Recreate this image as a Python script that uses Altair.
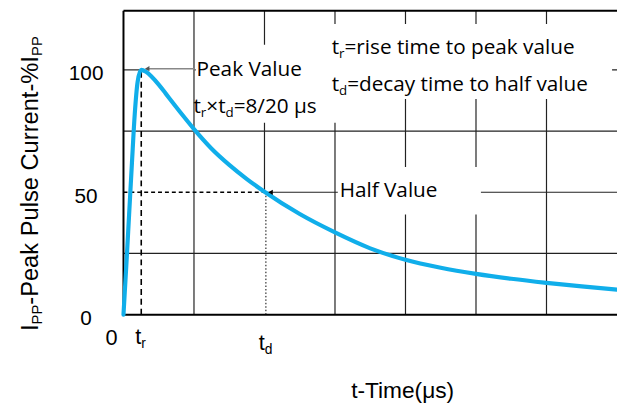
import altair as alt
import pandas as pd

# ---------------- data ----------------
time_us = [0, 0.4, 0.8, 1.2, 1.6, 2.0, 2.5, 3.2, 4, 5, 6, 7, 8, 9, 10, 12.5, 15, 17.5,
           20, 25, 30, 35, 40, 45, 50, 55, 60, 65, 70]
current_pct = [0, 20, 41, 62, 82, 95, 100, 99.2, 97.2, 94.0, 90.3, 86.6, 82.9, 79.3, 75.8,
               67.8, 61.2, 55.4, 50.2, 41.1, 33.6, 27.1, 22.4, 19.15, 16.65, 14.65, 13.0,
               11.55, 10.25]

T_MAX = 70
Y_MAX = 124.2
t_rise = 2.52
t_decay = 20.2
peak_value = 100
half_value = 50

grid_t_full = [10, 30, 40, 50, 60]
grid_y_full = [25, 75]
y_tick_values = [0, 50, 100]
y_tick_labels = ["0", "50", "100"]

# plot-area geometry (used only to convert text widths into data units)
W, H = 500, 308
PX_T = W / T_MAX
PX_Y = H / Y_MAX

OPEN_SANS = {"t": .352, "r": .411, "d": .613, "×": .571}
ARIAL = {"t": .278, "r": .333, "d": .556, "I": .278, "P": .667, "-": .333, "e": .556,
         "a": .556, "k": .5, " ": .278, "u": .556, "l": .222, "s": .5, "C": .722,
         "n": .556, "%": .889}


def text_width(txt, size, table):
    return sum(table.get(c, .556) for c in txt) * size


def segments(parts, x0, y0, table, rotate=False):
    rows, cum = [], 0.0
    for txt, size, shift in parts:
        if rotate:
            rows.append({"x": x0 + shift / PX_T, "y": y0 + cum / PX_Y, "text": txt,
                         "size": size, "angle": 270})
        else:
            rows.append({"x": x0 + cum / PX_T, "y": y0 - shift / PX_Y, "text": txt,
                         "size": size, "angle": 0})
        cum += text_width(txt, size, table)
    return rows


xs = alt.Scale(domain=[0, T_MAX], nice=False, zero=False)
ys = alt.Scale(domain=[0, Y_MAX], nice=False, zero=False)


def X(f="x"):
    return alt.X(f"{f}:Q", scale=xs, axis=None)


def Y(f="y"):
    return alt.Y(f"{f}:Q", scale=ys, axis=None)


def rules(df, **kw):
    return alt.Chart(df).mark_rule(**kw).encode(x=X("x"), x2="x2", y=Y("y"), y2="y2")


# ---------------- grid ----------------
g = []
for t in grid_t_full:
    g.append({"x": t, "x2": t, "y": 0, "y2": Y_MAX})
g.append({"x": 20, "x2": 20, "y": half_value, "y2": Y_MAX})
for v in grid_y_full:
    g.append({"x": 0, "x2": T_MAX, "y": v, "y2": v})
g.append({"x": t_decay, "x2": T_MAX, "y": half_value, "y2": half_value})
g.append({"x": 0, "x2": t_rise, "y": peak_value, "y2": peak_value})
g.append({"x": 10.1, "x2": T_MAX, "y": peak_value, "y2": peak_value})
grid = rules(pd.DataFrame(g), color="#222222", strokeWidth=1.2)

# white backgrounds behind the annotation texts
boxes_df = pd.DataFrame({
    "x": [10.25, 28.7, 30.4], "x2": [30.9, 69.3, 50.7],
    "y": [78.4, 88.1, 40.9], "y2": [110.3, 118.7, 60.3]})
boxes = alt.Chart(boxes_df).mark_rect(color="white").encode(
    x=X("x"), x2="x2", y=Y("y"), y2="y2")

# ---------------- markers ----------------
tr_line = rules(pd.DataFrame([{"x": t_rise, "x2": t_rise, "y": 0, "y2": peak_value}]),
                color="black", strokeWidth=1.6, strokeDash=[6, 4])
half_line = rules(pd.DataFrame([{"x": 0, "x2": t_decay, "y": half_value, "y2": half_value}]),
                  color="black", strokeWidth=1.3, strokeDash=[4, 3])
td_line = rules(pd.DataFrame([{"x": t_decay, "x2": t_decay, "y": 0, "y2": half_value}]),
                color="black", strokeWidth=1, strokeDash=[1.5, 2])

axes_lines = rules(pd.DataFrame([
    {"x": 0, "x2": 0, "y": 0, "y2": Y_MAX},
    {"x": 0, "x2": T_MAX, "y": 0, "y2": 0},
    {"x": 0, "x2": T_MAX, "y": Y_MAX, "y2": Y_MAX},
]), color="black", strokeWidth=2)

# ---------------- curve ----------------
curve_df = pd.DataFrame({"t": time_us, "i": current_pct})
curve = alt.Chart(curve_df).mark_line(
    color="#10AEEA", strokeWidth=4.2, interpolate="monotone", strokeCap="round",
    strokeJoin="round").encode(x=X("t"), y=Y("i"))

# ---------------- arrows ----------------
peak_arrow = rules(pd.DataFrame([{"x": 3.2, "x2": 10.1, "y": 100.5, "y2": 100.5}]),
                   color="#888888", strokeWidth=1.5)
heads_df = pd.DataFrame({"x": [3.36, 20.86], "y": [100.5, half_value],
                         "c": ["#555555", "black"]})
heads = alt.Chart(heads_df).mark_point(shape="triangle-left", filled=True, size=28,
                                       opacity=1).encode(
    x=X("x"), y=Y("y"), color=alt.Color("c:N", scale=None))

# ---------------- annotation texts (Open Sans) ----------------
A, S, SH = 21, 13.5, 4
ann = []
ann += segments([("Peak Value", A, 0)], 10.36, 97.7, OPEN_SANS)
ann += segments([("t", A, 0), ("r", S, SH), ("×t", A, 0), ("d", S, SH),
                 ("=8/20 μs", A, 0)], 9.94, 82.2, OPEN_SANS)
ann += segments([("t", A, 0), ("r", S, SH), ("=rise time to peak value", A, 0)],
                29.54, 106.4, OPEN_SANS)
ann += segments([("t", A, 0), ("d", S, SH), ("=decay time to half value", A, 0)],
                29.54, 91.5, OPEN_SANS)
ann += segments([("Half Value", A, 0)], 30.66, 48.1, OPEN_SANS)
ann_text = alt.Chart(pd.DataFrame(ann)).mark_text(
    align="left", baseline="alphabetic", font="Open Sans", color="black").encode(
    x=X("x"), y=Y("y"), text="text:N", size=alt.Size("size:Q", scale=None),
    angle=alt.Angle("angle:Q", scale=None))

# ---------------- axis texts (Liberation Sans) ----------------
lab = []
lab += segments([("t", 22, 0), ("r", 14, 4)], 1.68, -12.0, ARIAL)
lab += segments([("t", 22, 0), ("d", 14, 4)], 19.18, -14.4, ARIAL)
lab += segments([("I", 24, 0), ("PP", 15, 4), ("-Peak Pulse Current-%I", 24, 0),
                 ("PP", 15, 4)], -12.18, -6.7, ARIAL, rotate=True)
axis_left = alt.Chart(pd.DataFrame(lab)).mark_text(
    align="left", baseline="alphabetic", font="Liberation Sans", color="black").encode(
    x=X("x"), y=Y("y"), text="text:N", size=alt.Size("size:Q", scale=None),
    angle=alt.Angle("angle:Q", scale=None))

cen = [{"x": -5.3, "y": v - 4.2, "text": s, "size": 21}
       for v, s in zip(y_tick_values, y_tick_labels)]
cen.append({"x": -1.68, "y": -12.3, "text": "0", "size": 22})
cen.append({"x": 39.6, "y": -34.2, "text": "t-Time(μs)", "size": 23})
axis_center = alt.Chart(pd.DataFrame(cen)).mark_text(
    align="center", baseline="alphabetic", font="Liberation Sans", color="black").encode(
    x=X("x"), y=Y("y"), text="text:N", size=alt.Size("size:Q", scale=None))

chart = alt.layer(
    grid, boxes, tr_line, half_line, td_line, axes_lines, curve, peak_arrow, heads,
    ann_text, axis_left, axis_center
).properties(
    width=W, height=H,
    autosize=alt.AutoSizeParams(type="none"),
    padding={"left": 117, "top": 0, "right": 0, "bottom": 100},
).configure_view(stroke=None)

chart.save("out.html", embed_options={"renderer": "svg", "actions": False})
